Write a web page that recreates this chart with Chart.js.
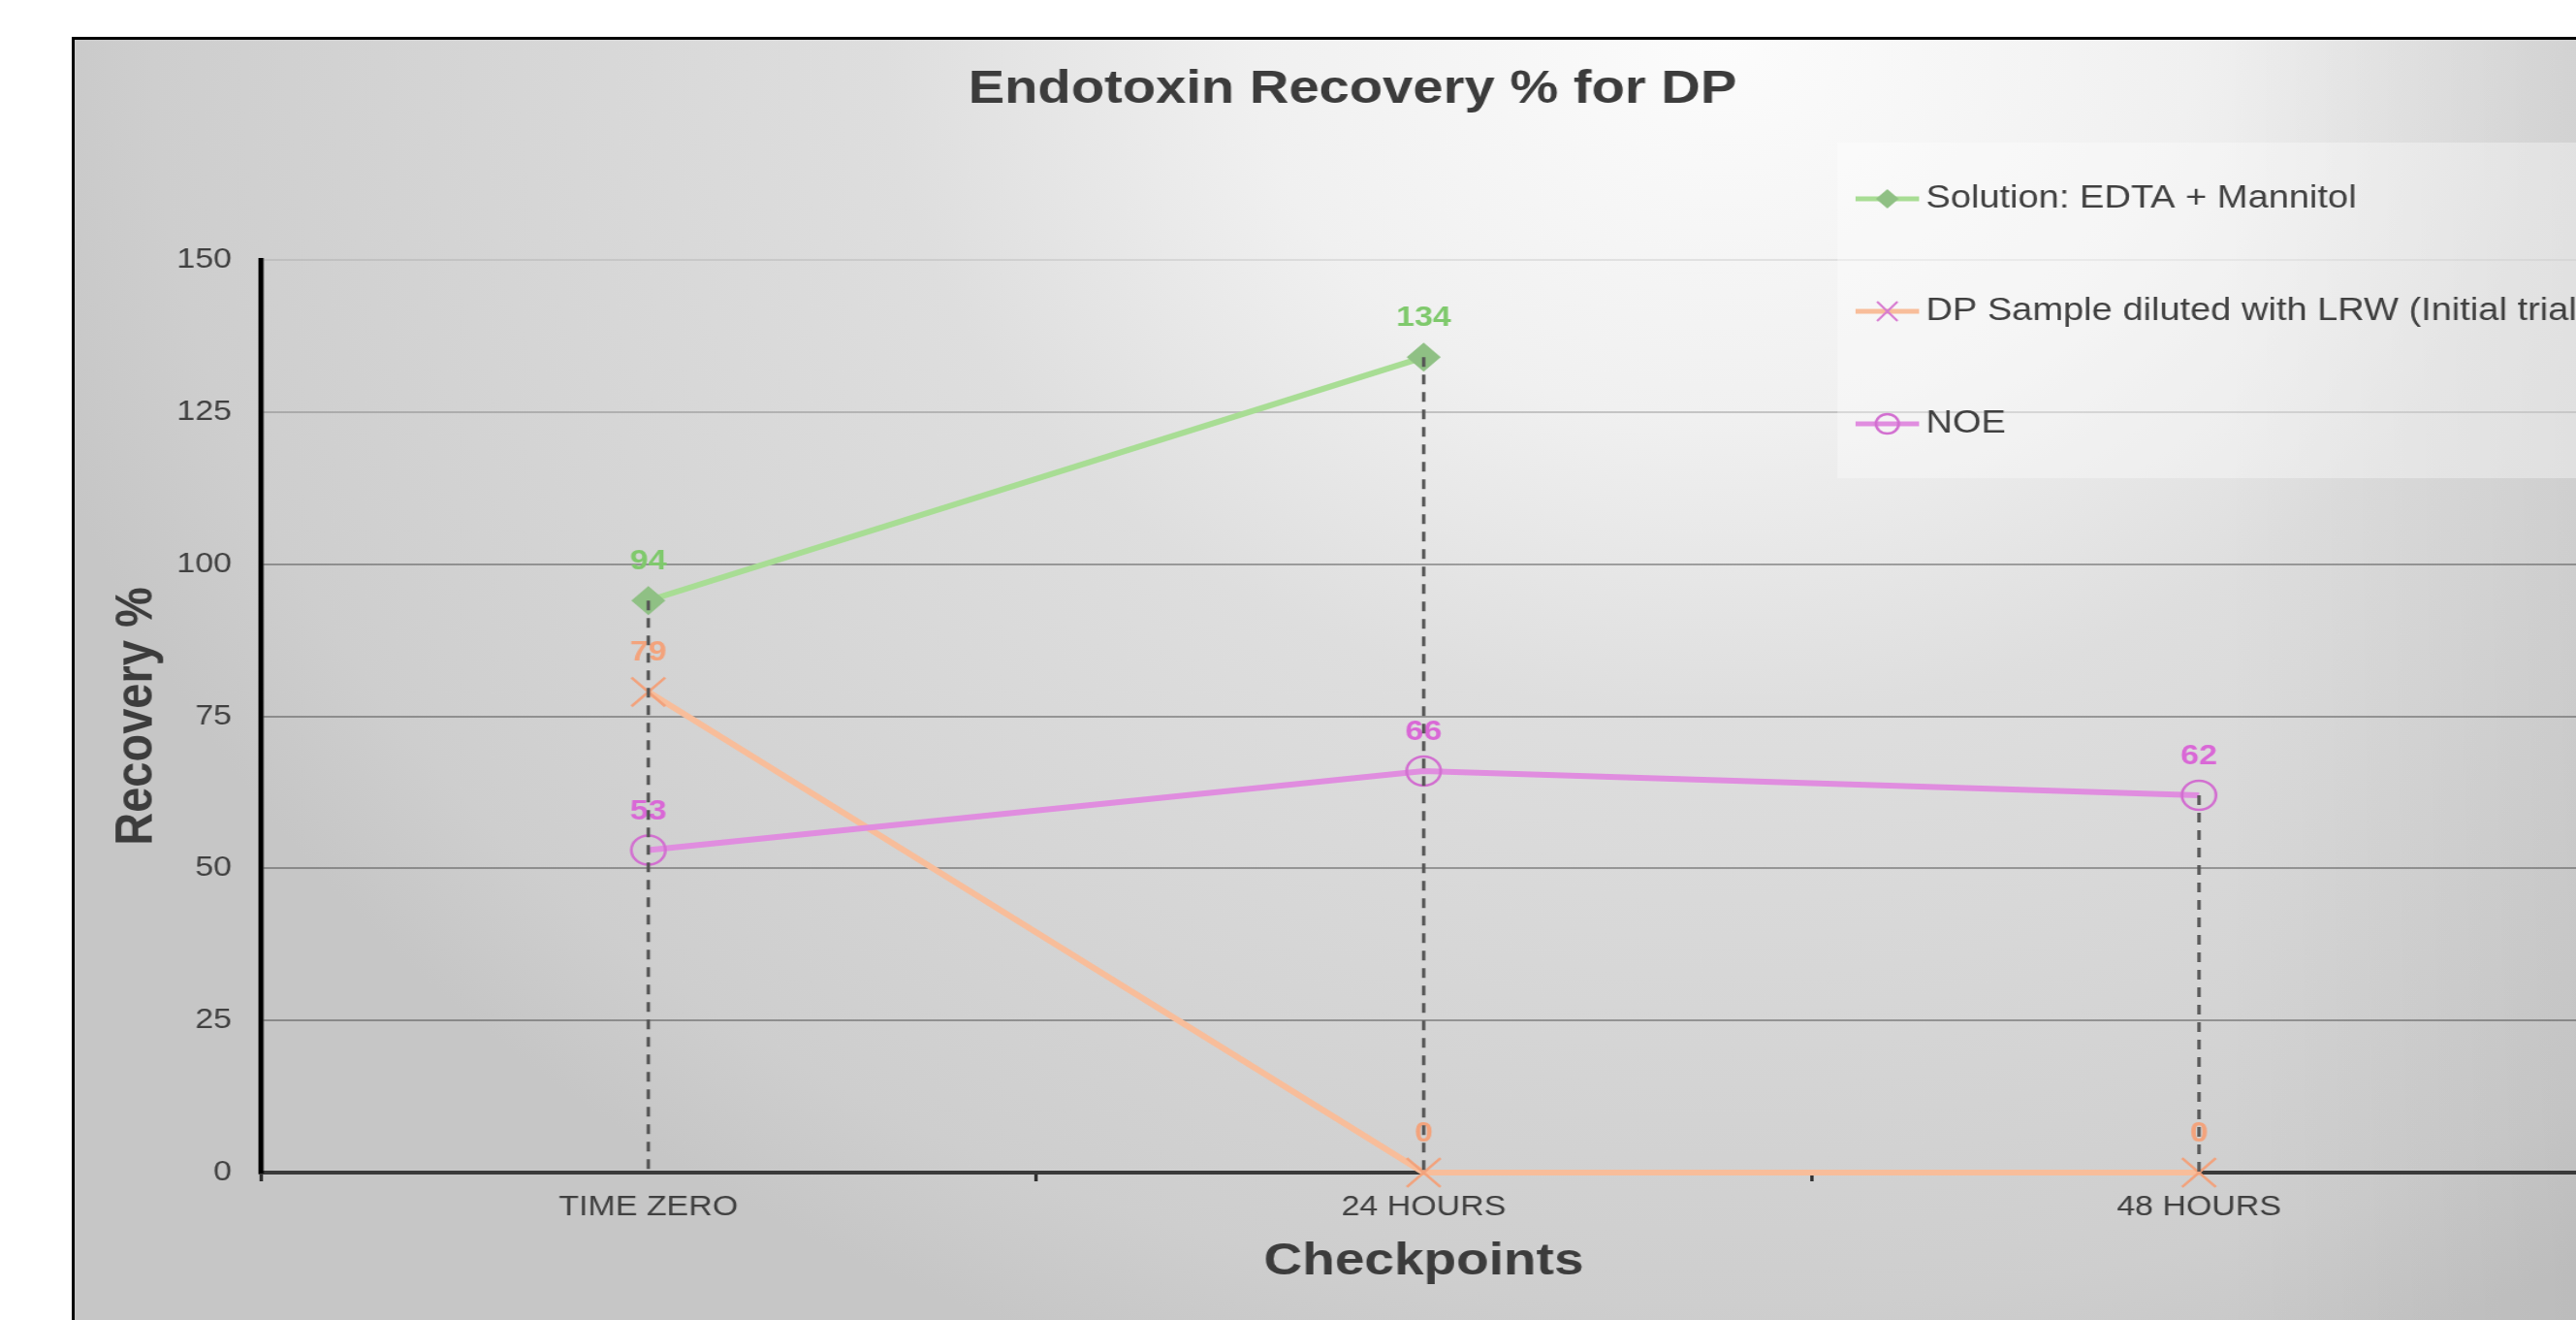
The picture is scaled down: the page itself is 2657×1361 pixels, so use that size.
<!DOCTYPE html>
<html>
<head>
<meta charset="utf-8">
<script src="https://cdn.jsdelivr.net/npm/chart.js@4.4.1/dist/chart.umd.min.js"></script>
<style>
  html, body { margin: 0; padding: 0; background: #fff; overflow: hidden; }
  #frame {
    position: absolute; left: 74px; top: 38px; width: 2636px; height: 1330px;
    border: 3px solid #000;
    background:
      linear-gradient(to right, rgba(0,0,0,0) 84%, rgba(0,0,0,0.06) 100%),
      radial-gradient(ellipse 1800px 1450px at 1700px 0px, #fcfcfc 0%, #f0f0f0 27%, #dedede 48%, #cecece 90%, #c6c6c6 100%);
  }
  /* the source picture is stretched sideways, so the canvas is too */
  #chart { position: absolute; left: 0; top: 0; transform: scaleX(1.17); transform-origin: 0 0; }
</style>
</head>
<body>
<div id="frame"><canvas id="chart" width="2253" height="1330"></canvas></div>
<script>
const checkpoints = ['TIME ZERO', '24 HOURS', '48 HOURS'];
const edtaMannitol = [94, 134, null];
const dpDilutedLrw = [79, 0, 0];
const noe = [53, 66, 62];
const yTicks = [0, 25, 50, 75, 100, 125, 150];

const FONT = '"Liberation Sans", Arial, sans-serif';
Chart.defaults.font.family = FONT;

// numbers above each point
const valueLabels = {
  id: 'valueLabels',
  afterDatasetsDraw(chart) {
    const ctx = chart.ctx;
    ctx.save();
    ctx.font = 'bold 29px ' + FONT;
    ctx.textAlign = 'center';
    ctx.textBaseline = 'middle';
    chart.data.datasets.forEach((ds, i) => {
      const meta = chart.getDatasetMeta(i);
      meta.data.forEach((pt, j) => {
        const v = ds.data[j];
        if (v === null) return;
        ctx.fillStyle = ds.labelColor;
        ctx.fillText(String(v), pt.x, pt.y - 40);
      });
    });
    ctx.restore();
  }
};

// dashed drop lines from the highest point of each checkpoint
const dropLines = {
  id: 'dropLines',
  afterDatasetsDraw(chart) {
    const { ctx, scales: { x, y } } = chart;
    ctx.save();
    ctx.strokeStyle = '#555555';
    ctx.lineWidth = 3;
    ctx.setLineDash([10, 8]);
    checkpoints.forEach((c, i) => {
      const vals = chart.data.datasets.map(d => d.data[i]).filter(v => v !== null);
      const top = Math.max(...vals);
      const px = x.getPixelForValue(i);
      ctx.beginPath();
      ctx.moveTo(px, y.getPixelForValue(top));
      ctx.lineTo(px, y.getPixelForValue(0));
      ctx.stroke();
    });
    ctx.restore();
  }
};

// legend box overlapping the top right of the plot
const sideLegend = {
  id: 'sideLegend',
  afterDraw(chart) {
    const ctx = chart.ctx;
    ctx.save();
    ctx.fillStyle = 'rgba(255,255,255,0.35)';
    ctx.fillRect(1554, 106, 690, 346);
    const rows = [164, 280, 396];
    chart.data.datasets.forEach((ds, i) => {
      const yy = rows[i];
      const cx = 1598;
      ctx.setLineDash([]);
      ctx.strokeStyle = ds.borderColor;
      ctx.lineWidth = 5;
      ctx.beginPath();
      ctx.moveTo(1570, yy);
      ctx.lineTo(1626, yy);
      ctx.stroke();
      if (ds.pointStyle === 'rectRot') {
        ctx.fillStyle = ds.pointBackgroundColor;
        ctx.beginPath();
        ctx.moveTo(cx, yy - 10); ctx.lineTo(cx + 10, yy); ctx.lineTo(cx, yy + 10); ctx.lineTo(cx - 10, yy);
        ctx.closePath();
        ctx.fill();
      } else if (ds.pointStyle === 'crossRot') {
        ctx.strokeStyle = '#d77bd0';
        ctx.lineWidth = 2;
        ctx.beginPath();
        ctx.moveTo(cx - 9, yy - 10); ctx.lineTo(cx + 9, yy + 10);
        ctx.moveTo(cx + 9, yy - 10); ctx.lineTo(cx - 9, yy + 10);
        ctx.stroke();
      } else {
        ctx.strokeStyle = ds.pointBorderColor;
        ctx.lineWidth = 2.5;
        ctx.beginPath();
        ctx.arc(cx, yy, 10, 0, Math.PI * 2);
        ctx.stroke();
      }
      ctx.fillStyle = '#404040';
      ctx.font = '32.5px ' + FONT;
      ctx.textAlign = 'left';
      ctx.textBaseline = 'middle';
      ctx.fillText(ds.label, 1632, yy);
    });
    ctx.restore();
  }
};

new Chart(document.getElementById('chart'), {
  type: 'line',
  data: {
    labels: checkpoints,
    datasets: [
      {
        label: 'Solution: EDTA + Mannitol',
        data: edtaMannitol,
        borderColor: '#a8dd94',
        borderWidth: 6,
        pointStyle: 'rectRot',
        pointRadius: 15,
        pointBackgroundColor: '#8fc084',
        pointBorderColor: '#8fc084',
        pointBorderWidth: 0,
        labelColor: '#7fc96c',
        clip: false,
        order: 0
      },
      {
        label: 'DP Sample diluted with LRW (Initial trial)',
        data: dpDilutedLrw,
        borderColor: '#f8bd9a',
        borderWidth: 6,
        pointStyle: 'crossRot',
        pointRadius: 21,
        pointBackgroundColor: 'rgba(0,0,0,0)',
        pointBorderColor: '#f2a27c',
        pointBorderWidth: 2.5,
        labelColor: '#f3a37c',
        clip: false,
        order: 2
      },
      {
        label: 'NOE',
        data: noe,
        borderColor: '#e08ddf',
        borderWidth: 6,
        pointStyle: 'circle',
        pointRadius: 15,
        pointBackgroundColor: 'rgba(0,0,0,0)',
        pointBorderColor: '#d26fd0',
        pointBorderWidth: 2.5,
        labelColor: '#d968d6',
        clip: false,
        order: 1
      }
    ]
  },
  options: {
    responsive: false,
    animation: false,
    events: [],
    layout: { padding: 0 },
    plugins: {
      legend: { display: false },
      tooltip: { enabled: false },
      title: {
        display: true,
        text: 'Endotoxin Recovery % for DP',
        color: '#3c3c3c',
        font: { size: 48, weight: 'bold' },
        padding: { top: 22.7, bottom: 146.7 }
      }
    },
    scales: {
      x: {
        offset: true,
        grid: {
          display: true, drawOnChartArea: false, drawTicks: true, offset: true,
          tickLength: 9, tickWidth: 3, tickColor: '#303030'
        },
        border: { display: true, color: '#3a3a3a', width: 4 },
        ticks: { color: '#404040', font: { size: 29 }, padding: 9.6, maxRotation: 0 },
        title: {
          display: true, text: 'Checkpoints', color: '#3c3c3c',
          font: { size: 47, weight: 'bold' }, padding: { top: 0, bottom: 42 }
        },
        afterFit(s) { s.height = 162; }
      },
      y: {
        min: 0,
        max: 150,
        afterBuildTicks(s) { s.ticks = yTicks.map(v => ({ value: v })); },
        grid: {
          drawTicks: false,
          lineWidth: 2,
          color: c => c.tick && c.tick.value === 150 ? 'rgba(0,0,0,0.08)'
            : (c.tick && c.tick.value === 125 ? 'rgba(40,40,40,0.22)' : 'rgba(40,40,40,0.38)')
        },
        border: { display: true, color: '#000', width: 4.5 },
        ticks: { color: '#404040', font: { size: 29 }, padding: 25.5 },
        title: {
          display: true, text: 'Recovery %', color: '#3c3c3c',
          font: { size: 47, weight: 'bold' }, padding: { top: 26.5, bottom: 0 }
        },
        afterFit(s) { s.width = 164; }
      },
      yRight: {
        position: 'right',
        display: true,
        grid: { display: false, drawTicks: false },
        border: { display: false },
        ticks: { display: false },
        afterFit(s) { s.width = 38.5; }
      }
    }
  },
  plugins: [valueLabels, dropLines, sideLegend]
});
</script>
</body>
</html>
